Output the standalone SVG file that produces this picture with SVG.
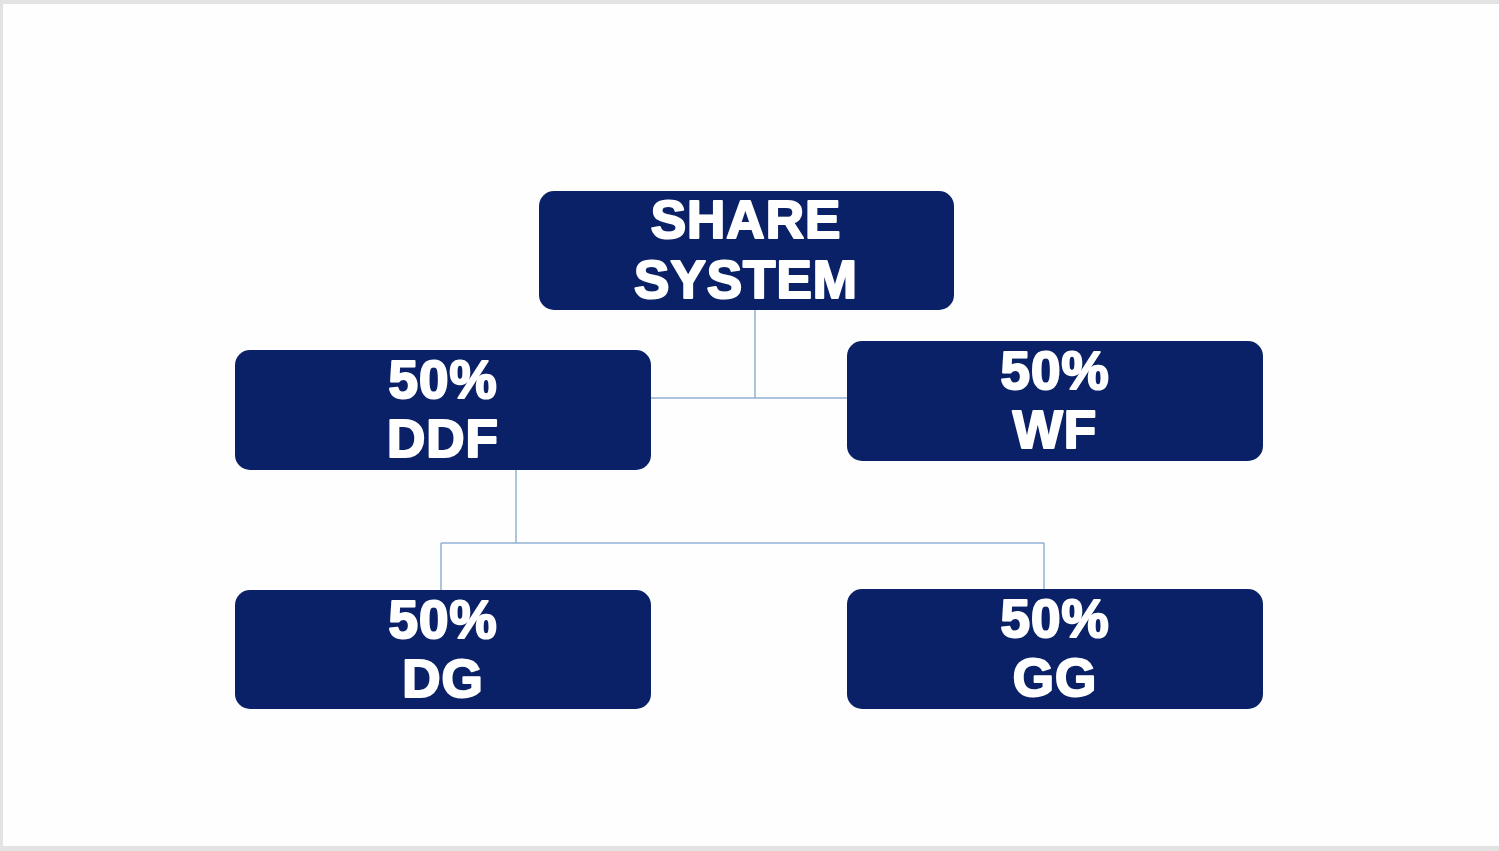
<svg xmlns="http://www.w3.org/2000/svg" width="1499" height="851" viewBox="0 0 1499 851">
<style>
.node rect{fill:#0a2167;}
.node text{fill:#ffffff;stroke:#ffffff;stroke-width:2.2;stroke-linejoin:round;font-family:"Liberation Sans",Arial,sans-serif;font-weight:bold;font-size:53px;letter-spacing:1px;text-anchor:middle;}
.conn{fill:none;stroke:#93b1d3;stroke-width:1.5;}
</style>
<rect x="0" y="0" width="1499" height="851" fill="#e3e3e3"/>
<rect x="3" y="4" width="1496" height="842" fill="#fefefe"/>
<g id="connectors">
<path class="conn" d="M755,310 V398 M651,398 H847"/>
<path class="conn" d="M516,470 V543 M441,543 H1044 M441,543 V590 M1044,543 V589"/>
</g>
<g id="share-system" class="node">
<rect x="539" y="191" width="415" height="119" rx="15"/>
<text x="746" y="238">SHARE</text>
<text x="746" y="298">SYSTEM</text>
</g>
<g id="ddf" class="node">
<rect x="235" y="350" width="416" height="120" rx="15"/>
<text x="443" y="398">50%</text>
<text x="443" y="457">DDF</text>
</g>
<g id="wf" class="node">
<rect x="847" y="341" width="416" height="120" rx="15"/>
<text x="1055" y="389">50%</text>
<text x="1055" y="448">WF</text>
</g>
<g id="dg" class="node">
<rect x="235" y="590" width="416" height="119" rx="15"/>
<text x="443" y="638">50%</text>
<text x="443" y="697">DG</text>
</g>
<g id="gg" class="node">
<rect x="847" y="589" width="416" height="120" rx="15"/>
<text x="1055" y="637">50%</text>
<text x="1055" y="696">GG</text>
</g>
</svg>
